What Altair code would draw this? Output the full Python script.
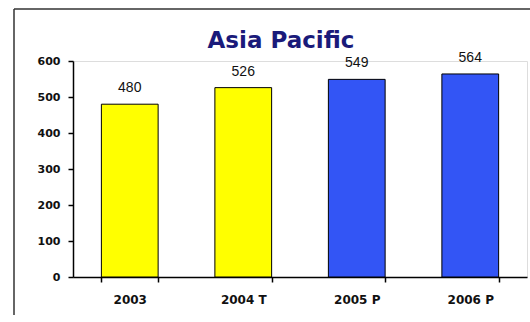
import altair as alt
import pandas as pd

years = ["2003", "2004 T", "2005 P", "2006 P"]
values = [480, 526, 549, 564]
colors = ["#ffff00", "#ffff00", "#3355f5", "#3355f5"]
y_ticks = [0, 100, 200, 300, 400, 500, 600]
title_text = ["Asia Pacific"]

df = pd.DataFrame({"year": years, "value": values, "color": colors})

base = alt.Chart(df).encode(
    x=alt.X("year:N", sort=years, title=None,
            scale=alt.Scale(paddingInner=0.5, paddingOuter=0.25),
            axis=alt.Axis(labelAngle=0, tickBand="extent", tickSize=5,
                          labelPadding=12, labelFont="DejaVu Sans",
                          labelFontWeight="bold", labelFontSize=12,
                          labelColor="#111", domainColor="#000", tickColor="#000",
                          domainWidth=1.5, tickWidth=1.5)),
    y=alt.Y("value:Q", title=None,
            scale=alt.Scale(domain=[0, 600], nice=False),
            axis=alt.Axis(values=y_ticks, grid=False, labelOverlap=False,
                          tickCount=7,
                          tickSize=5, labelPadding=8, labelFont="DejaVu Sans",
                          labelFontWeight="bold", labelFontSize=11, labelColor="#111",
                          domainColor="#000", tickColor="#000",
                          domainWidth=1.5, tickWidth=1.5)),
)

bars = base.mark_bar(stroke="#000", strokeWidth=1).encode(
    color=alt.Color("color:N", scale=None),
)

labels = base.mark_text(baseline="bottom", dy=-9, font="Liberation Sans",
                        fontSize=14, color="#111").encode(text="value:Q")

title = alt.Chart(pd.DataFrame({"t": title_text})).mark_text(
    font="DejaVu Sans", fontSize=23, fontWeight="bold", color="#1a1a7a",
    baseline="alphabetic", align="center").encode(
    text="t:N", x=alt.value(208), y=alt.value(-13))

frame_left = alt.Chart(pd.DataFrame({"t": title_text})).mark_rule(
    stroke="#333", strokeWidth=1.5).encode(
    x=alt.value(-59), y=alt.value(-52), y2=alt.value(261))
frame_top = alt.Chart(pd.DataFrame({"t": title_text})).mark_rule(
    stroke="#333", strokeWidth=1.5).encode(
    x=alt.value(-59), x2=alt.value(457), y=alt.value(-52))

chart = alt.layer(frame_left, frame_top, bars, labels, title).properties(
    width=454, height=216,
    autosize=alt.AutoSizeParams(type="none"),
    padding={"left": 73, "top": 61, "right": 3, "bottom": 38},
).configure_view(stroke=None).configure(background="white")

chart.save("out.html", embed_options={"renderer": "svg", "actions": False})
